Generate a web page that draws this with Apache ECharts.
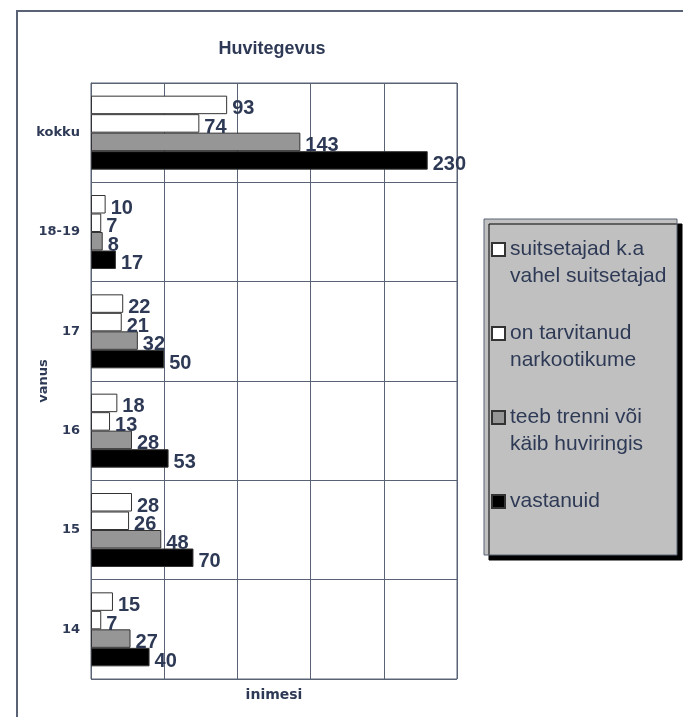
<!DOCTYPE html>
<html><head><meta charset="utf-8">
<script src="https://cdn.jsdelivr.net/npm/echarts@6/dist/echarts.min.js"></script>
<style>html,body{margin:0;padding:0;background:#fff}#c{width:683px;height:717px}</style>
</head><body><div id="c"></div>
<script>
const categories = ['14', '15', '16', '17', '18-19', 'kokku'];
const seriesNames = ['suitsetajad k.a\nvahel suitsetajad', 'on tarvitanud\nnarkootikume', 'teeb trenni või\nkäib huviringis', 'vastanuid'];
const smokers = [15, 28, 18, 22, 10, 93];
const drugs = [7, 26, 13, 21, 7, 74];
const hobbies = [27, 48, 28, 32, 8, 143];
const respondents = [40, 70, 53, 50, 17, 230];
const xTicks = [0, 50, 100, 150, 200, 250];

const TXT = '#2e3a55';
const LINE = '#5a6375';
const fills = ['#ffffff', '#ffffff', '#969696', '#000000'];
const values = [smokers, drugs, hobbies, respondents];

const chart = echarts.init(document.getElementById('c'));
chart.setOption({
  animation: false,
  title: {
    text: 'Huvitegevus', left: 267, top: 35, textAlign: 'center',
    textStyle: {fontFamily: 'Liberation Sans', fontSize: 18, fontWeight: 'bold', color: TXT}
  },
  graphic: [
    {type: 'rect', shape: {x: 17, y: 11, width: 700, height: 730}, style: {fill: 'none', stroke: LINE, lineWidth: 2}, z: -10},
    {type: 'rect', shape: {x: 484, y: 219, width: 193, height: 336},
     style: {fill: '#c0c0c0', stroke: LINE, lineWidth: 1, shadowColor: '#000', shadowOffsetX: 5, shadowOffsetY: 5, shadowBlur: 0}, z: -5}
  ],
  legend: {
    orient: 'vertical', left: 491, top: 209, padding: 0, itemGap: 3,
    itemWidth: 13, itemHeight: 13, icon: 'rect',
    formatter: name => name.indexOf('\n') >= 0 ? '\n' + name : '\n' + name + '\n',
    textStyle: {fontFamily: 'Liberation Sans', fontSize: 21, color: TXT, lineHeight: 27}
  },
  grid: {left: 91, top: 83, right: 226, bottom: 38, show: true, borderColor: LINE, borderWidth: 1, containLabel: false},
  xAxis: {
    type: 'value', min: xTicks[0], max: xTicks[xTicks.length - 1], interval: xTicks[1] - xTicks[0],
    axisLabel: {show: false}, axisTick: {show: false}, axisLine: {show: false},
    splitLine: {show: true, lineStyle: {color: LINE, width: 1}},
    name: 'inimesi', nameLocation: 'middle', nameGap: 9, nameMoveOverlap: false,
    nameTextStyle: {fontFamily: 'DejaVu Sans', fontWeight: 'bold', fontSize: 14, color: TXT}
  },
  yAxis: {
    type: 'category', data: categories,
    axisLine: {show: true, lineStyle: {color: LINE}}, axisTick: {show: false},
    splitLine: {show: true, lineStyle: {color: LINE, width: 1}},
    axisLabel: {fontFamily: 'DejaVu Sans', fontWeight: 'bold', fontSize: 13, color: TXT, margin: 11},
    name: 'vanus', nameLocation: 'middle', nameGap: 41, nameRotate: 90, nameMoveOverlap: false,
    nameTextStyle: {fontFamily: 'DejaVu Sans', fontWeight: 'bold', fontSize: 13, color: TXT}
  },
  series: seriesNames.map((n, i) => ({
    name: n, type: 'bar', data: values[i],
    barWidth: 18.5, barGap: '0%',
    itemStyle: {color: fills[i], borderColor: '#333', borderWidth: 1},
    label: {show: true, position: 'right', distance: 5, offset: [0, 4],
      fontFamily: 'Liberation Sans', fontWeight: 'bold', fontSize: 20, color: TXT}
  }))
});
</script></body></html>
